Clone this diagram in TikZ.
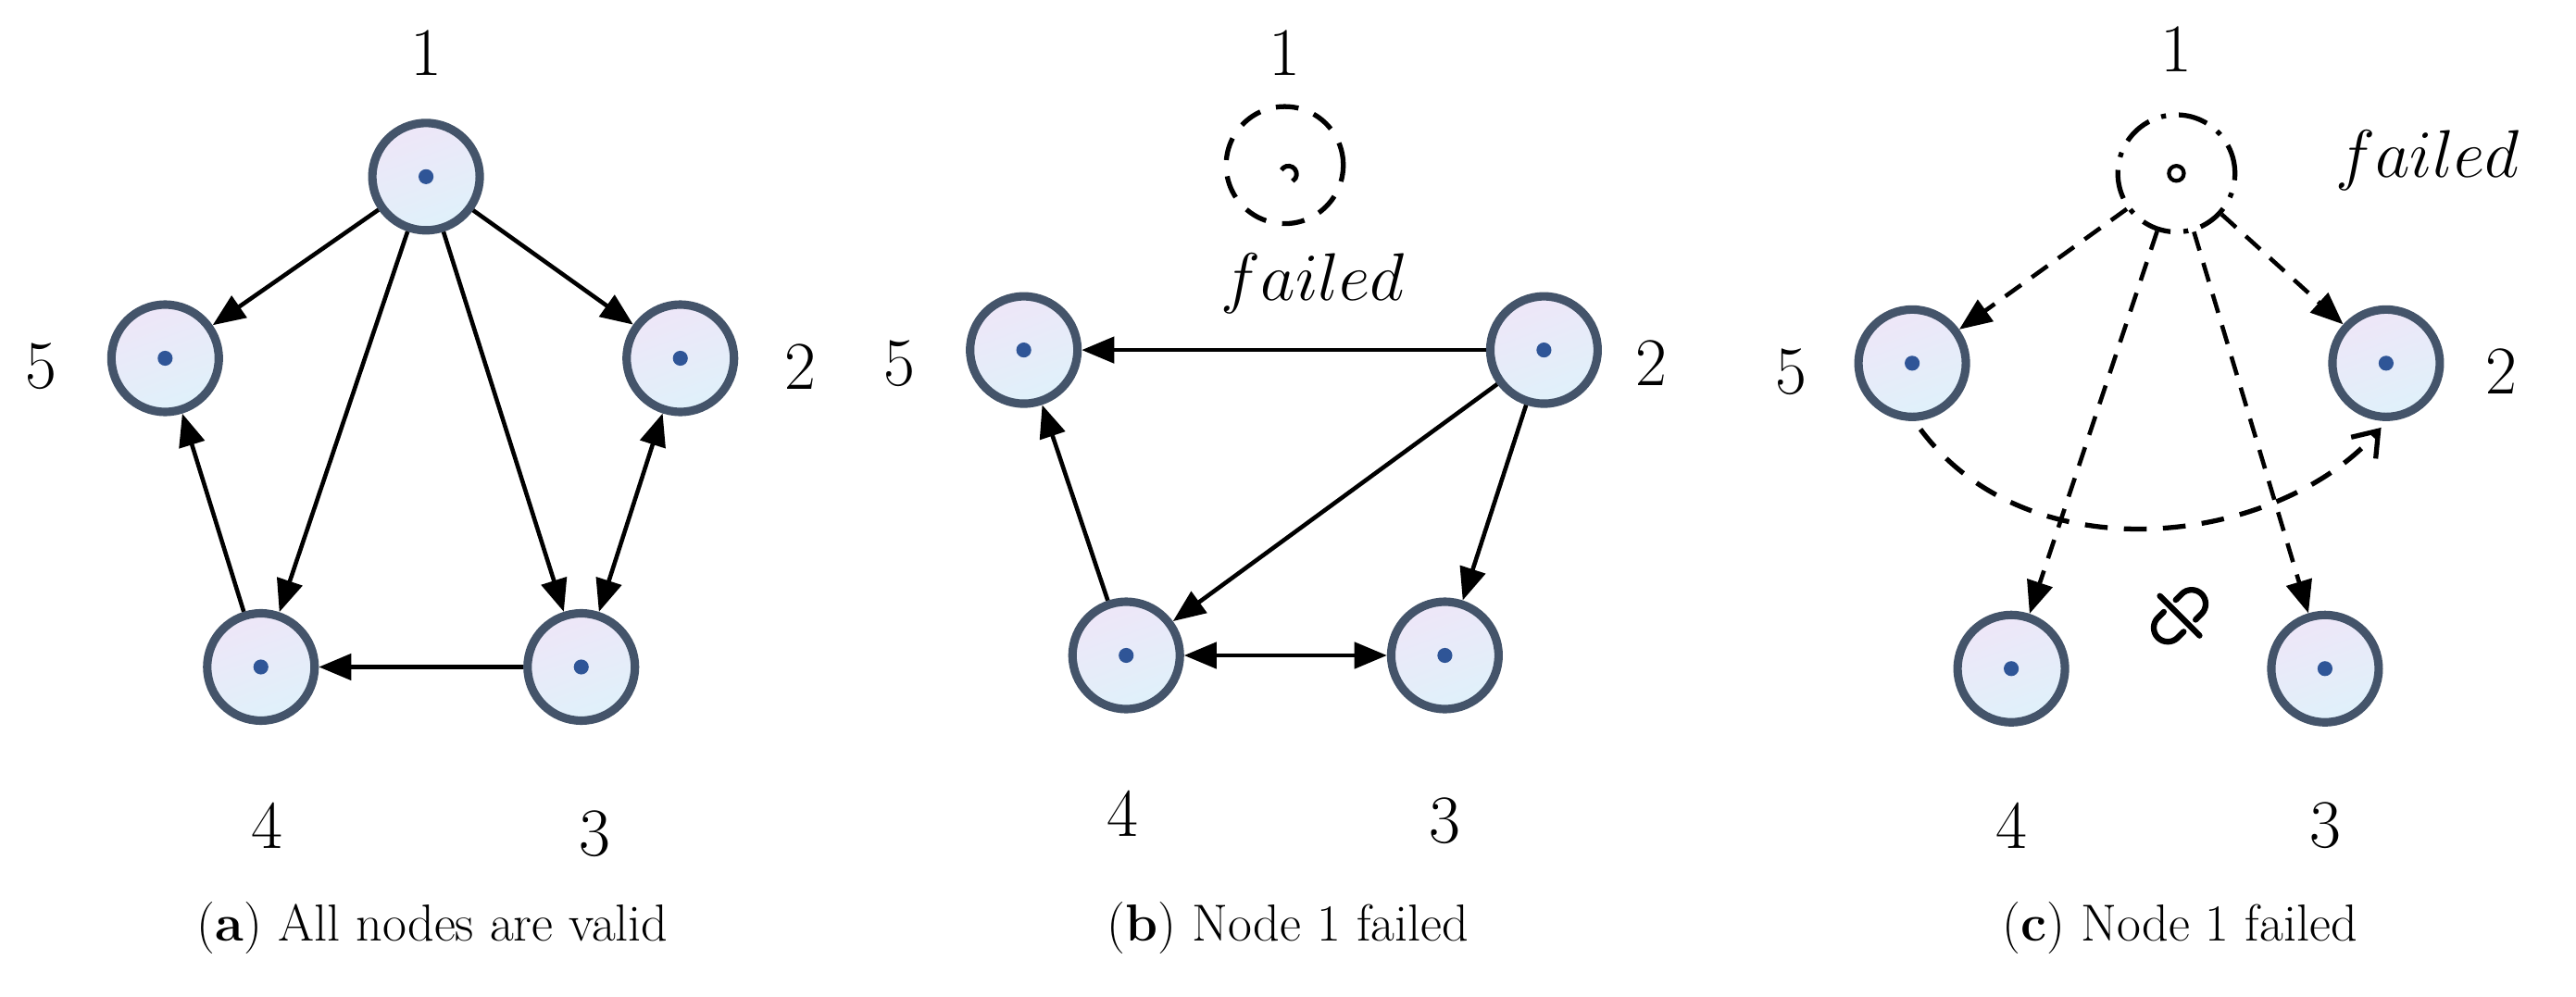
\documentclass[tikz,border=0pt]{standalone}
\usepackage{tikz}
\usetikzlibrary{arrows.meta}
\definecolor{rim}{HTML}{44546A}
\definecolor{dotc}{HTML}{2F5597}
\definecolor{topc}{HTML}{EEE6F8}
\definecolor{botc}{HTML}{DFF1FA}
\tikzset{
  vert/.style={circle, draw=rim, line width=2.6pt, minimum size=33pt,
    top color=topc, bottom color=botc, shading angle=20, inner sep=0pt},
  lbl/.style={font=\fontsize{21}{24}\selectfont},
  capt/.style={font=\fontsize{16}{19}\selectfont},
  edge/.style={line width=1.3pt, -{Triangle[length=10pt,width=8pt]}},
  dedge/.style={edge, dashed, dash pattern=on 6pt off 4pt}
}
\newcommand{\mkvert}[3]{%
  \node[vert] (#1) at (#2,#3) {};
  \fill[dotc] (#1) circle (2.3pt);}
\begin{document}
\begin{tikzpicture}[x=0.01783cm, y=-0.01783cm]
  \useasboundingbox (0,0) rectangle (1560,603.4);

  % (a) all nodes valid
  \mkvert{a1}{258}{107}
  \mkvert{a2}{412}{217}
  \mkvert{a3}{352}{404}
  \mkvert{a4}{158}{404}
  \mkvert{a5}{100}{217}
  \node[lbl] at (258,32) {1};
  \node[lbl] at (485,222) {2};
  \node[lbl] at (360,505) {3};
  \node[lbl] at (162,500) {4};
  \node[lbl] at (25,222) {5};
  \draw[edge] (a1) -- (a5);
  \draw[edge] (a1) -- (a2);
  \draw[edge] (a1) -- (a4);
  \draw[edge] (a1) -- (a3);
  \draw[edge, {Triangle[length=10pt,width=8pt]}-{Triangle[length=10pt,width=8pt]}] (a3) -- (a2);
  \draw[edge] (a4) -- (a5);
  \draw[edge] (a3) -- (a4);
  \node[capt] at (262,562) {(\textbf{a}) All nodes are valid};

  % (b) node 1 failed
  \node[circle, draw, line width=1.5pt, dashed, dash pattern=on 7pt off 5pt,
    minimum size=36pt] (b1) at (778,100) {};
  \draw[line width=1.4pt] (776,103) arc (150:-60:2.5pt);
  \mkvert{b2}{935}{212}
  \mkvert{b3}{875}{397}
  \mkvert{b4}{682}{397}
  \mkvert{b5}{620}{212}
  \node[lbl] at (778,32) {1};
  \node[lbl] at (1000,220) {2};
  \node[lbl] at (875,497) {3};
  \node[lbl] at (680,493) {4};
  \node[lbl] at (545,220) {5};
  \node[lbl] at (795,172) {$failed$};
  \draw[edge] (b2) -- (b5);
  \draw[edge] (b2) -- (b4);
  \draw[edge] (b2) -- (b3);
  \draw[edge, {Triangle[length=10pt,width=8pt]}-{Triangle[length=10pt,width=8pt]}] (b4) -- (b3);
  \draw[edge] (b4) -- (b5);
  \node[capt] at (780,562) {(\textbf{b}) Node 1 failed};

  % (c) node 1 failed, broken link
  \node[circle, draw, line width=1.5pt, dash pattern=on 9pt off 4pt on 1.5pt off 4pt,
    minimum size=36pt] (c1) at (1318,105) {};
  \draw[line width=1.2pt] (c1) circle (2.3pt);
  \mkvert{c2}{1445}{220}
  \mkvert{c3}{1408}{405}
  \mkvert{c4}{1218}{405}
  \mkvert{c5}{1158}{220}
  \node[lbl] at (1318,30) {1};
  \node[lbl] at (1470,97) {$failed$};
  \node[lbl] at (1515,225) {2};
  \node[lbl] at (1408,500) {3};
  \node[lbl] at (1218,500) {4};
  \node[lbl] at (1085,225) {5};
  \draw[dedge] (c1) -- (c5);
  \draw[dedge] (c1) -- (c2);
  \draw[dedge] (c1) -- (c4);
  \draw[dedge] (c1) -- (c3);
  \draw[line width=1.5pt, dash pattern=on 7pt off 5pt, -{Straight Barb[length=7pt,width=10pt]}]
    (1163,260) .. controls (1230,350) and (1380,330) .. (1442,259);
  % broken link icon
  \begin{scope}[shift={(1320,373)}, rotate=45, scale=1.7, line width=1.8pt, line cap=round]
    \draw (-3,-5) -- (-6,-5) arc (270:90:5) -- (-3,5);
    \draw (3,-5) -- (6,-5) arc (-90:90:5) -- (3,5);
    \draw (0,-10) -- (0,10);
  \end{scope}
  \node[capt] at (1320,562) {(\textbf{c}) Node 1 failed};
\end{tikzpicture}
\end{document}
